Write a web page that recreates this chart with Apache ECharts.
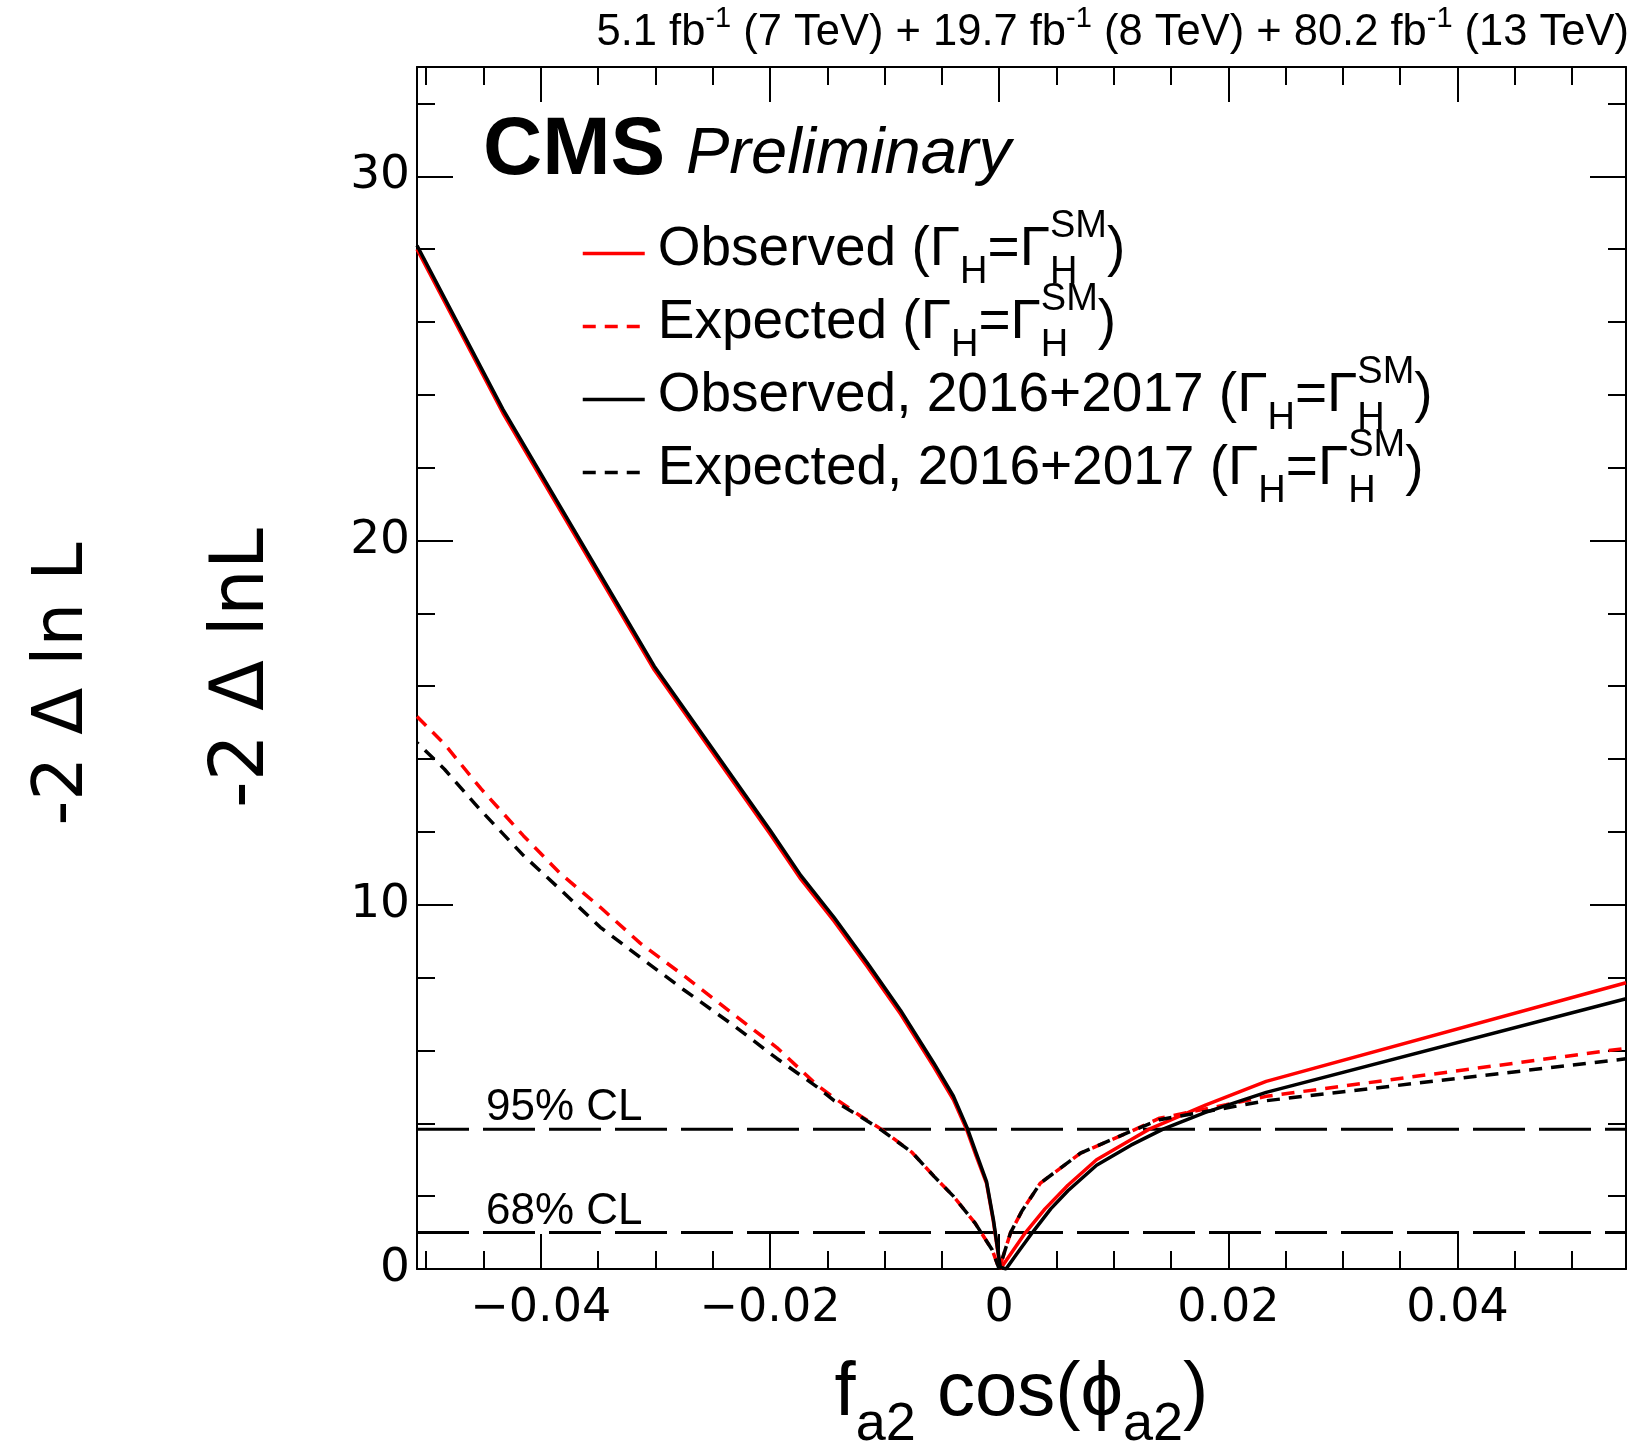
<!DOCTYPE html>
<html><head><meta charset="utf-8">
<script src="https://cdn.jsdelivr.net/npm/echarts@6/dist/echarts.min.js"></script>
<style>html,body{margin:0;padding:0;background:#fff}#c{width:1635px;height:1441px}</style>
</head><body><div id="c"></div>
<script>
// ---------------- data ----------------
const xMin = -0.0508, xMax = 0.0547, yMin = 0, yMax = 33;
const xMajorTicks = [-0.04, -0.02, 0, 0.02, 0.04];
const xTickLabels = ['\u22120.04', '\u22120.02', '0', '0.02', '0.04'];
const xMinorTicks = [-0.05, -0.045, -0.04, -0.035, -0.03, -0.025, -0.02, -0.015, -0.01, -0.005, 0,
                     0.005, 0.01, 0.015, 0.02, 0.025, 0.03, 0.035, 0.04, 0.045, 0.05];
const yMajorTicks = [0, 10, 20, 30];
const yTickLabels = ['0', '10', '20', '30'];
const yMinorTicks = [0, 2, 4, 6, 8, 10, 12, 14, 16, 18, 20, 22, 24, 26, 28, 30, 32];

const seriesNames = [
  'Observed (\u0393H=\u0393H SM)',
  'Expected (\u0393H=\u0393H SM)',
  'Observed, 2016+2017 (\u0393H=\u0393H SM)',
  'Expected, 2016+2017 (\u0393H=\u0393H SM)'
];
const legendTexts = [
  '{m|Observed (\u0393}{sb|H}{m|=\u0393}{sbz|H}{sp|SM}{m|)}',
  '{m|Expected (\u0393}{sb|H}{m|=\u0393}{sbz|H}{sp|SM}{m|)}',
  '{m|Observed, 2016+2017 (\u0393}{sb|H}{m|=\u0393}{sbz|H}{sp|SM}{m|)}',
  '{m|Expected, 2016+2017 (\u0393}{sb|H}{m|=\u0393}{sbz|H}{sp|SM}{m|)}'
];

// Observed (red solid)
const obsX = [-0.0508, -0.0433, -0.0301, -0.0200, -0.0173, -0.0144, -0.0115, -0.0086, -0.0057, -0.0040,
              -0.0028, -0.0020, -0.0011, -0.0005, 0.0001, 0.0012, 0.0023, 0.0040, 0.0060, 0.0085,
              0.0115, 0.0131, 0.0180, 0.0233, 0.0547];
const obsY = [28.0, 23.5, 16.45, 11.95, 10.7, 9.55, 8.3, 7.0, 5.55, 4.65,
              3.8, 3.1, 2.35, 1.3, 0.0, 0.5, 1.0, 1.65, 2.3, 3.0,
              3.55, 3.84, 4.5, 5.15, 7.86];
// Expected (red dashed)
const expX = [-0.0508, -0.0484, -0.0452, -0.0415, -0.0383, -0.0348, -0.0313, -0.0275, -0.0231, -0.0194,
              -0.0159, -0.0144, -0.0121, -0.0103, -0.0076, -0.0057, -0.0040, -0.0021, -0.0006, 0.0,
              0.0010, 0.0020, 0.0036, 0.0071, 0.0115, 0.0140, 0.0198, 0.0233, 0.0547];
const expY = [15.17, 14.41, 13.18, 11.89, 10.86, 9.93, 8.94, 8.05, 6.97, 6.08,
              5.05, 4.7, 4.2, 3.84, 3.2, 2.55, 2.0, 1.26, 0.52, 0.0,
              1.0, 1.6, 2.36, 3.18, 3.78, 4.14, 4.51, 4.74, 6.06];
// Observed, 2016+2017 (black solid)
const obs1617X = [-0.0508, -0.0433, -0.0301, -0.0200, -0.0173, -0.0144, -0.0115, -0.0086, -0.0057, -0.0040,
                  -0.0028, -0.0020, -0.0011, -0.0005, 0.0001, 0.0006, 0.0015, 0.0029, 0.0045, 0.0060,
                  0.0085, 0.0115, 0.0143, 0.0180, 0.0233, 0.0547];
const obs1617Y = [28.1, 23.6, 16.55, 12.05, 10.8, 9.65, 8.4, 7.1, 5.65, 4.75,
                  3.88, 3.18, 2.4, 1.35, 0.05, 0.0, 0.4, 1.0, 1.65, 2.15,
                  2.85, 3.4, 3.84, 4.3, 4.85, 7.42];
// Expected, 2016+2017 (black dashed)
const exp1617X = [-0.0508, -0.0484, -0.0452, -0.0415, -0.0383, -0.0348, -0.0313, -0.0275, -0.0231, -0.0194,
                  -0.0159, -0.0144, -0.0121, -0.0103, -0.0076, -0.0057, -0.0040, -0.0021, -0.0006, 0.0,
                  0.0010, 0.0020, 0.0036, 0.0071, 0.0115, 0.0140, 0.0198, 0.0233, 0.0547];
const exp1617Y = [14.45, 13.72, 12.58, 11.35, 10.42, 9.38, 8.55, 7.66, 6.67, 5.78,
                  5.0, 4.62, 4.18, 3.82, 3.2, 2.55, 2.0, 1.26, 0.52, 0.0,
                  1.0, 1.6, 2.36, 3.18, 3.78, 4.1, 4.42, 4.62, 5.77];
// confidence-level reference lines
const clX = [xMin, xMax];
const cl68Y = [1, 1];
const cl95Y = [3.84, 3.84];

// ---------------- chart ----------------
const F = "'Liberation Sans', Arial, Helvetica, sans-serif";
const D = "'DejaVu Sans', sans-serif";
const pairs = (xs, ys) => xs.map((x, i) => [x, ys[i]]);
const xFmt = v => { const i = xMajorTicks.findIndex(t => Math.abs(t - v) < 1e-9); return i >= 0 ? xTickLabels[i] : ''; };
const yFmt = v => { const i = yMajorTicks.findIndex(t => Math.abs(t - v) < 1e-9); return i >= 0 ? yTickLabels[i] : ''; };

const tickStyle = {color: '#000', width: 2};
function xAx(pos, major, extra) {
  return Object.assign({
    type: 'value', position: pos, min: xMin, max: xMax,
    axisLine: {show: false, onZero: false, lineStyle: {color: '#000', width: 2}},
    axisTick: {show: true, inside: true, length: major ? 35 : 18, lineStyle: tickStyle,
               customValues: major ? xMajorTicks : xMinorTicks},
    axisLabel: {show: false}, splitLine: {show: false}
  }, extra || {});
}
function yAx(pos, major, extra) {
  return Object.assign({
    type: 'value', position: pos, min: yMin, max: yMax,
    axisLine: {show: false, onZero: false, lineStyle: {color: '#000', width: 2}},
    axisTick: {show: true, inside: true, length: major ? 36 : 18, lineStyle: tickStyle,
               customValues: major ? yMajorTicks : yMinorTicks},
    axisLabel: {show: false}, splitLine: {show: false}
  }, extra || {});
}

const LW = 3.5;
const chart = echarts.init(document.getElementById('c'), null, {renderer: 'canvas'});
chart.setOption({
  animation: false,
  backgroundColor: '#fff',
  textStyle: {fontFamily: F, color: '#000'},
  grid: {left: 417, right: 9, top: 67, bottom: 172, containLabel: false, outerBoundsMode: 'none'},
  title: [
    {text: 'CMS', left: 483, top: 110.5, padding: 0,
     textStyle: {fontFamily: F, fontWeight: 'bold', fontSize: 82, lineHeight: 82, color: '#000'}},
    {text: 'Preliminary', left: 686, top: 122.5, padding: 0,
     textStyle: {fontFamily: F, fontWeight: 'normal', fontStyle: 'italic', fontSize: 65, lineHeight: 65, color: '#000'}},
    {text: '{m|5.1 fb}{s|-1}{m| (7 TeV) + 19.7 fb}{s|-1}{m| (8 TeV) + 80.2 fb}{s|-1}{m| (13 TeV)}',
     right: 6, top: 8, padding: 0,
     textStyle: {fontFamily: F, fontWeight: 'normal', color: '#000', rich: {
       m: {fontFamily: F, fontWeight: 'normal', fontSize: 43.5, height: 50, lineHeight: 50, verticalAlign: 'top', color: '#000'},
       s: {fontFamily: F, fontWeight: 'normal', fontSize: 29, height: 21, lineHeight: 21, verticalAlign: 'top', color: '#000'}
     }}},
    {text: '95% CL', left: 486, top: 1085.5, padding: 0,
     textStyle: {fontFamily: F, fontWeight: 'normal', fontSize: 44, lineHeight: 44, color: '#000'}},
    {text: '68% CL', left: 486, top: 1189.5, padding: 0,
     textStyle: {fontFamily: F, fontWeight: 'normal', fontSize: 44, lineHeight: 44, color: '#000'}}
  ],
  legend: {
    data: [
      {name: seriesNames[0]},
      {name: seriesNames[1]},
      {name: seriesNames[2]},
      {name: seriesNames[3], lineStyle: {dashOffset: 0}}
    ],
    orient: 'vertical', left: 581, top: 208, padding: 0,
    itemWidth: 62, itemHeight: 14, itemGap: -10.5, selectedMode: false,
    itemStyle: {opacity: 0, color: 'rgba(0,0,0,0)', borderWidth: 0},
    lineStyle: {width: LW},
    formatter: name => legendTexts[seriesNames.indexOf(name)],
    textStyle: {fontFamily: F, color: '#000', padding: [0, 0, 0, 8], rich: {
      m: {fontFamily: F, fontSize: 55, height: 53, lineHeight: 60, verticalAlign: 'top', color: '#000'},
      sb: {fontFamily: F, fontSize: 38, height: 22, lineHeight: 22, verticalAlign: 'bottom', color: '#000'},
      sbz: {fontFamily: F, fontSize: 38, height: 22, lineHeight: 22, verticalAlign: 'bottom', width: 0, color: '#000'},
      sp: {fontFamily: F, fontSize: 38, height: 7, lineHeight: 7, verticalAlign: 'top', color: '#000'}
    }}
  },
  xAxis: [
    xAx('bottom', true, {
      axisLine: {show: true, onZero: false, lineStyle: {color: '#000', width: 2}},
      axisLabel: {show: true, customValues: xMajorTicks, formatter: xFmt, margin: 17.5,
                  fontFamily: D, fontSize: 46, color: '#000'},
      name: '{m|f}{sb|a2}{m| cos(\u03d5}{sb|a2}{m|)}', nameLocation: 'middle', nameGap: 85,
      nameTextStyle: {fontFamily: F, color: '#000', rich: {
        m: {fontFamily: F, fontSize: 76, height: 80, lineHeight: 80, verticalAlign: 'top', color: '#000'},
        sb: {fontFamily: F, fontSize: 54, height: 17, lineHeight: 17, verticalAlign: 'bottom', color: '#000'}
      }}
    }),
    xAx('bottom', false),
    xAx('top', true, {axisLine: {show: true, onZero: false, lineStyle: {color: '#000', width: 2}}}),
    xAx('top', false)
  ],
  yAxis: [
    yAx('left', true, {
      axisLine: {show: true, onZero: false, lineStyle: {color: '#000', width: 2}},
      axisLabel: {show: true, customValues: yMajorTicks, formatter: yFmt, margin: 7,
                  fontFamily: D, fontSize: 47, color: '#000'},
      name: '-2 \u0394 lnL', nameLocation: 'middle', nameRotate: 90, nameGap: 136,
      nameTextStyle: {fontFamily: D, fontSize: 74, color: '#000'}
    }),
    yAx('left', false, {
      name: '-2 \u0394 ln L', nameLocation: 'middle', nameRotate: 90, nameGap: 318,
      nameTextStyle: {fontFamily: D, fontSize: 69, color: '#000', padding: [0, 32, 0, 0]}
    }),
    yAx('right', true, {axisLine: {show: true, onZero: false, lineStyle: {color: '#000', width: 2}}}),
    yAx('right', false)
  ],
  series: [
    {name: 'CL95', type: 'line', data: pairs(clX, cl95Y), symbol: 'none', silent: true,
     lineStyle: {color: '#000', width: 3, type: [52, 14]}, emphasis: {disabled: true}},
    {name: 'CL68', type: 'line', data: pairs(clX, cl68Y), symbol: 'none', silent: true,
     lineStyle: {color: '#000', width: 3, type: [52, 14]}, emphasis: {disabled: true}},
    {name: seriesNames[0], type: 'line', data: pairs(obsX, obsY), symbol: 'none', color: '#ff0000',
     lineStyle: {color: '#ff0000', width: LW}, emphasis: {disabled: true}},
    {name: seriesNames[1], type: 'line', data: pairs(expX, expY), symbol: 'none', color: '#ff0000',
     lineStyle: {color: '#ff0000', width: LW, type: [13, 9]}, emphasis: {disabled: true}},
    {name: seriesNames[2], type: 'line', data: pairs(obs1617X, obs1617Y), symbol: 'none', color: '#000',
     lineStyle: {color: '#000', width: LW}, emphasis: {disabled: true}},
    {name: seriesNames[3], type: 'line', data: pairs(exp1617X, exp1617Y), symbol: 'none', color: '#000',
     lineStyle: {color: '#000', width: LW, type: [13, 9], dashOffset: 11}, emphasis: {disabled: true}}
  ]
});
</script></body></html>
